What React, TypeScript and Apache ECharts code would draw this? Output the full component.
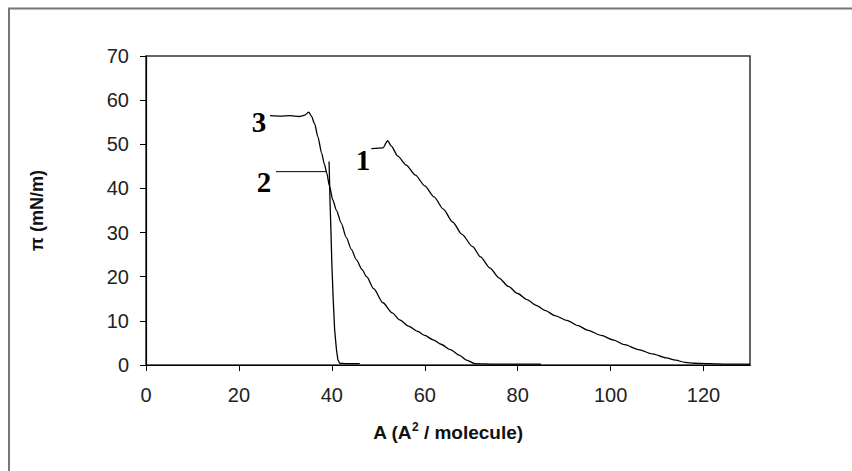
import React, { useEffect, useRef } from "react";
import * as echarts from "echarts";

// Data: [A (Å² / molecule), π (mN/m)]
const curve1: [number, number][] = [
  [48.5, 49.0], [51.0, 49.2], [52.0, 50.8], [52.8, 49.6], [54.2, 47.3], [56.0, 45.3],
  [58.0, 43.0], [60.0, 40.6], [62.0, 38.1], [64.0, 35.3], [66.0, 32.4], [68.0, 29.6],
  [70.3, 26.8], [72.0, 24.5], [74.0, 22.0], [76.0, 19.7], [78.0, 17.8], [80.0, 16.2],
  [82.0, 14.8], [84.0, 13.5], [86.0, 12.3], [88.0, 11.2], [90.6, 10.1], [93.0, 8.9],
  [95.0, 7.9], [98.0, 6.7], [100.5, 5.7], [103.0, 4.6], [106.0, 3.5], [109.0, 2.5],
  [112.0, 1.6], [114.0, 1.1], [116.0, 0.6], [118.0, 0.4], [121.3, 0.3], [125.0, 0.2],
  [130.0, 0.2],
];
const curve2: [number, number][] = [
  [39.4, 46.1], [39.5, 42.0], [39.6, 37.4], [39.8, 30.5], [40.0, 23.0], [40.3, 14.7],
  [40.6, 8.0], [41.0, 3.4], [41.3, 1.2], [41.7, 0.4], [43.0, 0.3], [46.0, 0.3],
];
const curve3: [number, number][] = [
  [26.7, 56.5], [29.0, 56.4], [31.0, 56.5], [33.0, 56.3], [34.2, 56.6], [35.0, 57.3],
  [35.6, 56.4], [36.3, 54.6], [37.0, 51.7], [37.8, 48.0], [38.4, 45.5], [38.9, 43.5],
  [39.5, 40.5], [40.2, 37.4], [41.0, 35.0], [42.0, 32.2], [43.1, 28.9], [44.2, 26.2],
  [45.3, 23.8], [46.5, 21.6], [47.5, 20.0], [49.0, 17.3], [51.0, 14.1], [53.0, 11.8],
  [54.6, 10.2], [56.5, 8.8], [58.5, 7.6], [60.0, 6.7], [61.8, 5.7], [63.5, 4.7],
  [65.5, 3.5], [67.5, 2.2], [69.0, 1.1], [70.8, 0.3], [75.0, 0.2], [80.0, 0.2], [85.0, 0.2],
];
const leader2: [number, number][] = [[28.0, 43.8], [38.9, 43.8]];
// curve labels: [A, π, text]
const curveLabels: [number, number, string][] = [
  [24.3, 55.0, "3"],
  [25.4, 41.5, "2"],
  [46.7, 46.4, "1"],
];
const xTicks = [0, 20, 40, 60, 80, 100, 120];
const yTicks = [0, 10, 20, 30, 40, 50, 60, 70];

const tickFont = "'Liberation Sans', Arial, sans-serif";

export default function App() {
  const ref = useRef<HTMLDivElement>(null);
  useEffect(() => {
    if (!ref.current) return;
    const chart = echarts.init(ref.current, undefined, { renderer: "svg" });
    const lineStyle = { color: "#000", width: 1.3 };
    chart.setOption({
      animation: false,
      backgroundColor: "#fff",
      grid: {
        left: 146, top: 56, width: 604, height: 309,
        show: true, borderColor: "#333", borderWidth: 1.5, backgroundColor: "transparent",
      },
      xAxis: {
        type: "value", min: 0, max: 130, interval: 20,
        name: "A (A{sup|2} / molecule)",
        nameLocation: "middle", nameGap: 56,
        nameTextStyle: {
          fontFamily: tickFont, fontWeight: "bold", fontSize: 19, color: "#111",
          rich: { sup: { fontFamily: tickFont, fontWeight: "bold", fontSize: 12, color: "#111", verticalAlign: "top", padding: [0, 0, 10, 0] } },
        },
        axisLine: { lineStyle: { color: "#000", width: 1.2 } },
        axisTick: { show: true, length: 6, inside: false, lineStyle: { color: "#000" }, customValues: xTicks },
        axisLabel: { customValues: xTicks, margin: 20, fontFamily: tickFont, fontSize: 20, color: "#222" },
        splitLine: { show: false },
      },
      yAxis: {
        type: "value", min: 0, max: 70, interval: 10,
        name: "π (mN/m)",
        nameLocation: "middle", nameGap: 100, nameRotate: 90,
        nameTextStyle: { fontFamily: tickFont, fontWeight: "bold", fontSize: 18, color: "#111" },
        axisLine: { show: true, lineStyle: { color: "#000", width: 1.2 } },
        axisTick: { show: true, length: 6, lineStyle: { color: "#000" }, customValues: yTicks },
        axisLabel: { customValues: yTicks, margin: 17, fontFamily: tickFont, fontSize: 20, color: "#222" },
        splitLine: { show: false },
      },
      series: [
        { type: "line", data: curve1, showSymbol: false, lineStyle, silent: true, smooth: 0.25, smoothMonotone: "x" },
        { type: "line", data: curve2, showSymbol: false, lineStyle, silent: true },
        { type: "line", data: curve3, showSymbol: false, lineStyle, silent: true, smooth: 0.25, smoothMonotone: "x" },
        { type: "line", data: leader2, showSymbol: false, lineStyle: { color: "#000", width: 1 }, silent: true },
        {
          type: "scatter", data: curveLabels, symbolSize: 0, silent: true,
          itemStyle: { opacity: 1 },
          label: {
            show: true, position: "inside", formatter: (p: any) => p.value[2],
            fontFamily: "'Liberation Serif', 'Times New Roman', serif", fontWeight: "bold",
            fontSize: 29, color: "#000", opacity: 1, textBorderWidth: 0,
          },
        },
      ],
      graphic: [
        { type: "line", shape: { x1: 9, y1: 8, x2: 9, y2: 471 }, style: { stroke: "#777", lineWidth: 2 } },
        { type: "line", shape: { x1: 8, y1: 8.5, x2: 852, y2: 8.5 }, style: { stroke: "#777", lineWidth: 2 } },
      ],
    });
    return () => chart.dispose();
  }, []);
  return (
    <div
      ref={ref}
      style={{ position: "fixed", left: 0, top: 0, width: 852, height: 471, background: "#fff" }}
    />
  );
}
